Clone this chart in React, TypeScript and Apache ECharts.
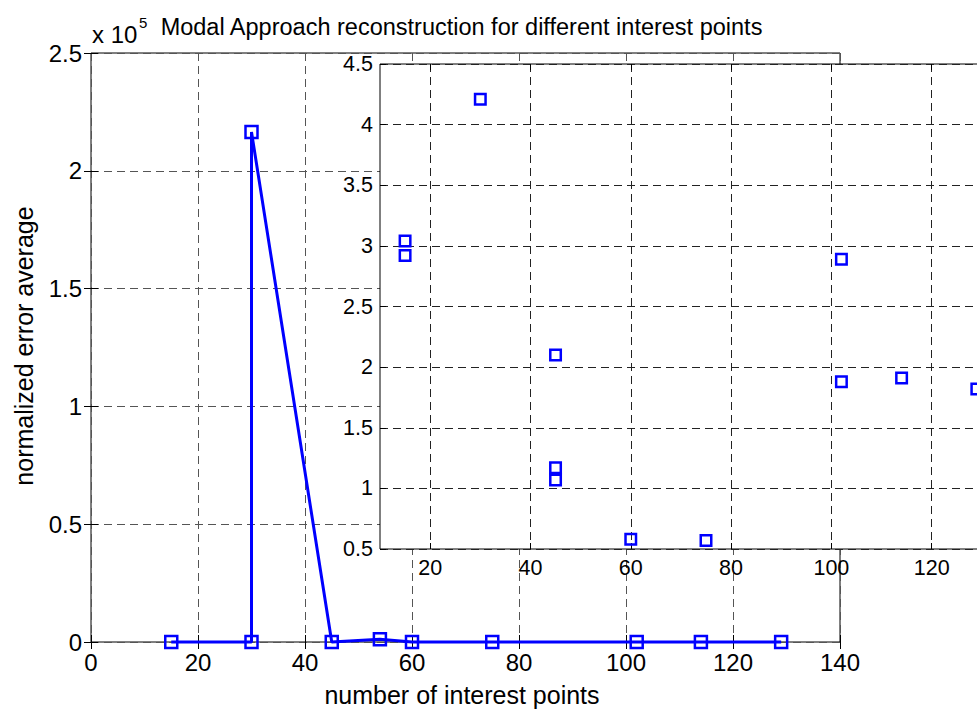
import React, { useEffect, useRef } from "react";
import * as echarts from "echarts";

// Main plot (values in units of 1e5)
const mainX = [15, 30, 30, 45, 54, 60, 75, 102, 114, 129];
const mainY = [0, 0, 2.165, 0, 0.012, 0, 0, 0, 0, 0];
const mainXTicks = [0, 20, 40, 60, 80, 100, 120, 140];
const mainYTicks = [0, 0.5, 1, 1.5, 2, 2.5];

// Inset plot
const insetX = [15, 15, 30, 45, 45, 45, 60, 75, 102, 102, 114, 129];
const insetY = [3.04, 2.92, 4.21, 2.1, 1.17, 1.07, 0.58, 0.57, 2.89, 1.88, 1.91, 1.82];
const insetXTicks = [20, 40, 60, 80, 100, 120, 140];
const insetXLabels = [20, 40, 60, 80, 100, 120];

const TITLE = "Modal Approach reconstruction for different interest points";
const XLABEL = "number of interest points";
const YLABEL = "normalized error average";

const FONT = "'Liberation Sans', Arial, Helvetica, sans-serif";
const BLUE = "#0000ff";

export default function App() {
  const ref = useRef<HTMLDivElement>(null);
  useEffect(() => {
    if (!ref.current) return;
    const chart = echarts.init(ref.current, undefined, { renderer: "svg" });
    const mainTick = { show: true, inside: true, length: 7, lineStyle: { color: "#000", width: 1 } };
    const mainSplit = { show: true, lineStyle: { color: "#555", width: 1, type: [8, 5] as any } };
    const insetSplit = { show: true, lineStyle: { color: "#222", width: 1, type: [8, 5] as any } };
    const mainLabel = { show: true, fontSize: 24, color: "#000", fontFamily: FONT };
    const insetLabel = { show: true, fontSize: 21.5, color: "#000", fontFamily: FONT };

    const option: any = {
      animation: false,
      backgroundColor: "#fff",
      grid: [
        { left: 91, top: 53, width: 749, height: 589, show: true, borderColor: "#000", borderWidth: 1, backgroundColor: "rgba(0,0,0,0)", z: 0, outerBoundsMode: "none", containLabel: false },
        { left: 380, top: 64, width: 652, height: 485, show: true, borderColor: "#000", borderWidth: 1, backgroundColor: "#fff", z: 1, outerBoundsMode: "none", containLabel: false },
      ],
      xAxis: [
        {
          gridIndex: 0, type: "value", position: "bottom", min: mainXTicks[0], max: mainXTicks[mainXTicks.length - 1], interval: 20,
          axisLine: { show: false }, axisTick: mainTick, axisLabel: { ...mainLabel, margin: 8 }, splitLine: mainSplit, z: 0,
        },
        {
          gridIndex: 0, type: "value", position: "top", min: 0, max: 140, interval: 20,
          axisLine: { show: false }, axisTick: mainTick, axisLabel: { show: false }, splitLine: { show: false }, z: 0,
        },
        {
          gridIndex: 1, type: "value", position: "bottom", min: 10, max: 140,
          axisLine: { show: false },
          axisTick: { ...mainTick, length: 6, customValues: insetXTicks },
          axisLabel: { ...insetLabel, margin: 8, customValues: insetXLabels },
          splitLine: insetSplit, z: 2,
        },
        {
          gridIndex: 1, type: "value", position: "top", min: 10, max: 140,
          axisLine: { show: false },
          axisTick: { ...mainTick, length: 6, customValues: insetXTicks },
          axisLabel: { show: false, customValues: insetXLabels },
          splitLine: { show: false }, z: 2,
        },
      ],
      yAxis: [
        {
          gridIndex: 0, type: "value", position: "left", min: mainYTicks[0], max: mainYTicks[mainYTicks.length - 1], interval: 0.5,
          axisLine: { show: false }, axisTick: mainTick, axisLabel: { ...mainLabel, margin: 9 }, splitLine: mainSplit, z: 0,
        },
        {
          gridIndex: 0, type: "value", position: "right", min: 0, max: 2.5, interval: 0.5,
          axisLine: { show: false }, axisTick: mainTick, axisLabel: { show: false }, splitLine: { show: false }, z: 0,
        },
        {
          gridIndex: 1, type: "value", position: "left", min: 0.5, max: 4.5, interval: 0.5,
          axisLine: { show: false }, axisTick: { ...mainTick, length: 6 }, axisLabel: { ...insetLabel, margin: 7 }, splitLine: insetSplit, z: 2,
        },
      ],
      series: [
        {
          type: "line",
          xAxisIndex: 0,
          yAxisIndex: 0,
          data: mainX.map((x, i) => [x, mainY[i]]),
          symbol: "rect",
          symbolSize: 12,
          showSymbol: true,
          clip: false,
          itemStyle: { color: "rgba(0,0,0,0)", borderColor: BLUE, borderWidth: 2.5 },
          lineStyle: { color: BLUE, width: 3 },
          z: 3,
        },
        {
          type: "scatter",
          xAxisIndex: 2,
          yAxisIndex: 2,
          data: insetX.map((x, i) => [x, insetY[i]]),
          symbol: "rect",
          symbolSize: 10.5,
          itemStyle: { color: "rgba(0,0,0,0)", borderColor: BLUE, borderWidth: 2.5, opacity: 1 },
          z: 5,
        },
      ],
      graphic: [
        { type: "text", x: 461.5, y: 27, z: 10, style: { text: TITLE, fontSize: 23.5, fontFamily: FONT, fill: "#000", textAlign: "center", textVerticalAlign: "middle" } },
        { type: "text", x: 462, y: 695, z: 10, style: { text: XLABEL, fontSize: 25, fontFamily: FONT, fill: "#000", textAlign: "center", textVerticalAlign: "middle" } },
        { type: "text", x: 24, y: 346, rotation: Math.PI / 2, z: 10, style: { text: YLABEL, fontSize: 25, fontFamily: FONT, fill: "#000", textAlign: "center", textVerticalAlign: "middle" } },
        { type: "text", x: 92, y: 34.6, z: 10, style: { text: "x 10", fontSize: 24, fontFamily: FONT, fill: "#000", textAlign: "left", textVerticalAlign: "middle" } },
        { type: "text", x: 139, y: 22.7, z: 10, style: { text: "5", fontSize: 15, fontFamily: FONT, fill: "#000", textAlign: "left", textVerticalAlign: "middle" } },
      ],
    };
    chart.setOption(option);
    return () => chart.dispose();
  }, []);
  return (
    <div
      ref={ref}
      style={{ position: "fixed", left: 0, top: 0, width: 977, height: 711, background: "#fff" }}
    />
  );
}
